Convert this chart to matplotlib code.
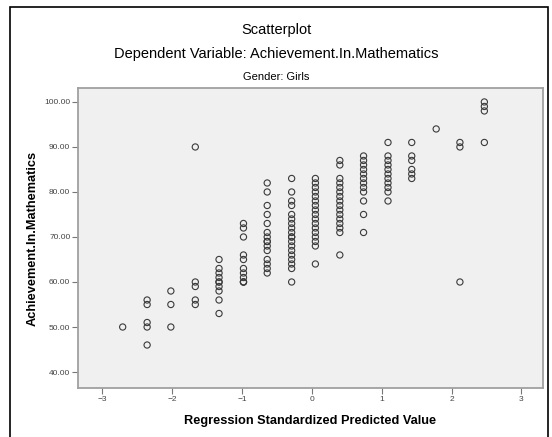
import matplotlib
matplotlib.use("Agg")
import matplotlib.pyplot as plt
import matplotlib.patches as mpatches
from matplotlib.ticker import FormatStrFormatter

# predicted value (x) and achievement score (y), one column at a time
pred_value = (
    [-2.71]
    + [-2.36] * 5
    + [-2.02] * 3
    + [-1.67] * 5
    + [-1.33] * 10
    + [-0.98] * 11
    + [-0.64] * 15
    + [-0.29] * 19
    + [0.05] * 17
    + [0.40] * 16
    + [0.74] * 12
    + [1.09] * 11
    + [1.43] * 6
    + [1.78]
    + [2.12] * 3
    + [2.47] * 4
)
math_score = (
    [50]
    + [56, 55, 51, 50, 46]
    + [58, 55, 50]
    + [90, 60, 59, 56, 55]
    + [65, 63, 62, 61, 60, 60, 59, 58, 56, 53]
    + [73, 72, 70, 66, 65, 63, 62, 61, 60, 60, 60]
    + [82, 80, 77, 75, 73, 71, 70, 69, 69, 68, 67, 65, 64, 63, 62]
    + [83, 80, 78, 77, 75, 74, 73, 72, 71, 70, 70, 69, 68, 67, 66, 65, 64, 63, 60]
    + [83, 82, 81, 80, 79, 78, 77, 76, 75, 74, 73, 72, 71, 70, 69, 68, 64]
    + [87, 86, 83, 82, 81, 80, 79, 78, 77, 76, 75, 74, 73, 72, 71, 66]
    + [88, 87, 86, 85, 84, 83, 82, 81, 80, 78, 75, 71]
    + [91, 88, 87, 86, 85, 84, 83, 82, 81, 80, 78]
    + [91, 88, 87, 85, 84, 83]
    + [94]
    + [91, 90, 60]
    + [100, 99, 98, 91]
)
x_ticks = [-3, -2, -1, 0, 1, 2, 3]
y_ticks = [40, 50, 60, 70, 80, 90, 100]

plt.rcParams["font.family"] = ["Liberation Sans", "DejaVu Sans"]

W, H = 552, 437
fig = plt.figure(figsize=(W / 100, H / 100), dpi=100)
ax = fig.add_axes([78 / W, 1 - 388 / H, (543 - 78) / W, (388 - 88) / H])
ax.set_facecolor("#F0F0F0")

ax.scatter(pred_value, math_score, s=20, facecolors="none",
           edgecolors="#3A3A3A", linewidths=0.8, zorder=3)

ax.set_xlim(-3.35, 3.31)
ax.set_ylim(36.45, 103.1)
ax.set_xticks(x_ticks)
ax.set_yticks(y_ticks)
ax.yaxis.set_major_formatter(FormatStrFormatter("%.2f"))
ax.tick_params(direction="out", length=4, width=0.8, color="#777777",
               labelsize=6, labelcolor="#444444", pad=1.5)

for sp in ax.spines.values():
    sp.set_color("#A0A0A0")
    sp.set_linewidth(1.3)

ax.set_xlabel("Regression Standardized Predicted Value", fontsize=9.2,
              fontweight="bold", labelpad=9)
ax.set_ylabel("Achievement.In.Mathematics", fontsize=9.2,
              fontweight="bold", labelpad=4)

fig.text(0.5, 1 - 30 / H, "Scatterplot", ha="center", va="center", fontsize=10.5)
fig.text(0.5, 1 - 54 / H, "Dependent Variable: Achievement.In.Mathematics",
         ha="center", va="center", fontsize=10.5)
fig.text(0.5, 1 - 77 / H, "Gender: Girls", ha="center", va="center", fontsize=8)

# outer frame of the output panel
fig.patches.append(mpatches.Rectangle((10 / W, -0.02), (548 - 10) / W, 1 - 7 / H + 0.02,
                                      transform=fig.transFigure, fill=False,
                                      edgecolor="black", linewidth=1.2))

fig.savefig("out.png", dpi=100)
